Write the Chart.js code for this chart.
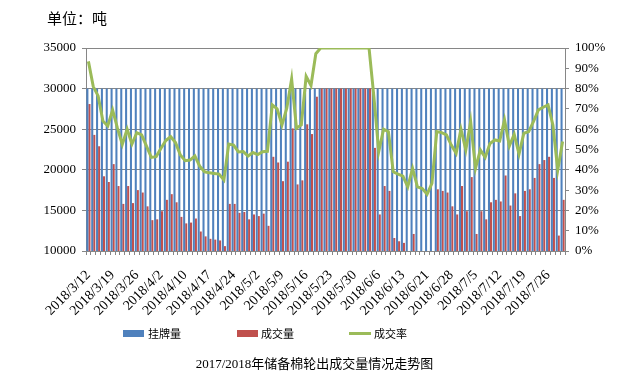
<!DOCTYPE html>
<html><head><meta charset="utf-8">
<script src="https://cdn.jsdelivr.net/npm/chart.js@4.4.1/dist/chart.umd.min.js"></script>
<style>
html,body{margin:0;padding:0;background:#fff;}
#wrap{position:relative;width:629px;height:380px;overflow:hidden;}
canvas{position:absolute;left:0;top:0;}
.t{position:absolute;font-family:"Noto Sans CJK SC","Noto Sans",sans-serif;color:#000;white-space:nowrap;line-height:1;}
.sw{position:absolute;}
</style></head><body>
<div id="wrap">
<canvas id="c" width="629" height="380"></canvas>
<div class="t" style="left:47px;top:10px;font-size:15px;">单位：吨</div>
<div class="sw" style="left:123px;top:330px;width:21px;height:7px;background:#4F81BD;"></div>
<div class="t" style="left:148px;top:328px;font-size:11px;">挂牌量</div>
<div class="sw" style="left:237px;top:330px;width:21px;height:7px;background:#C0504D;"></div>
<div class="t" style="left:261px;top:328px;font-size:11px;">成交量</div>
<div class="sw" style="left:349px;top:332px;width:22px;height:3px;background:#9BBB59;"></div>
<div class="t" style="left:374px;top:328px;font-size:11px;">成交率</div>
<div class="t" style="left:0;width:629px;text-align:center;top:356px;font-size:13px;"><span style="font-family:'Liberation Serif',serif;">2017/2018</span>年储备棉轮出成交量情况走势图</div>
</div>
<script>
const categories = [
 '2018/3/12','2018/3/13','2018/3/14','2018/3/15','2018/3/16',
 '2018/3/19','2018/3/20','2018/3/21','2018/3/22','2018/3/23',
 '2018/3/26','2018/3/27','2018/3/28','2018/3/29','2018/3/30',
 '2018/4/2','2018/4/3','2018/4/4','2018/4/8','2018/4/9',
 '2018/4/10','2018/4/11','2018/4/12','2018/4/13','2018/4/16',
 '2018/4/17','2018/4/18','2018/4/19','2018/4/20','2018/4/23',
 '2018/4/24','2018/4/25','2018/4/26','2018/4/27','2018/4/28',
 '2018/5/2','2018/5/3','2018/5/4','2018/5/7','2018/5/8',
 '2018/5/9','2018/5/10','2018/5/11','2018/5/14','2018/5/15',
 '2018/5/16','2018/5/17','2018/5/18','2018/5/21','2018/5/22',
 '2018/5/23','2018/5/24','2018/5/25','2018/5/28','2018/5/29',
 '2018/5/30','2018/5/31','2018/6/1','2018/6/4','2018/6/5',
 '2018/6/6','2018/6/7','2018/6/8','2018/6/11','2018/6/12',
 '2018/6/13','2018/6/14','2018/6/15','2018/6/19','2018/6/20',
 '2018/6/21','2018/6/22','2018/6/25','2018/6/26','2018/6/27',
 '2018/6/28','2018/6/29','2018/7/2','2018/7/3','2018/7/4',
 '2018/7/5','2018/7/6','2018/7/9','2018/7/10','2018/7/11',
 '2018/7/12','2018/7/13','2018/7/16','2018/7/17','2018/7/18',
 '2018/7/19','2018/7/20','2018/7/23','2018/7/24','2018/7/25',
 '2018/7/26','2018/7/27','2018/7/30','2018/7/31'
];
const tickLabels = ['2018/3/12','2018/3/19','2018/3/26','2018/4/2','2018/4/10','2018/4/17','2018/4/24','2018/5/2','2018/5/9','2018/5/16','2018/5/23','2018/5/30','2018/6/6','2018/6/13','2018/6/21','2018/6/28','2018/7/5','2018/7/12','2018/7/19','2018/7/26'];
const listed = [
 30000,30000,30000,30000,30000,30000,30000,30000,30000,30000,
 30000,30000,30000,30000,30000,30000,30000,30000,30000,30000,
 30000,30000,30000,30000,30000,30000,30000,30000,30000,30000,
 30000,30000,30000,30000,30000,30000,30000,30000,30000,30000,
 30000,30000,30000,30000,30000,30000,30000,30000,30000,30000,
 30000,30000,30000,30000,30000,30000,30000,30000,30000,30000,
 30000,30000,30000,30000,30000,30000,30000,30000,30000,30000,
 30000,30000,30000,30000,30000,30000,30000,30000,30000,30000,
 30000,30000,30000,30000,30000,30000,30000,30000,30000,30000,
 30000,30000,30000,30000,30000,30000,30000,30000,30000
];
const traded = [
 28100,24300,22900,19200,18500,20700,18000,15800,18000,15900,
 17500,17200,15500,13800,13900,14900,16300,17000,16000,14200,
 13400,13500,14000,12400,11800,11500,11400,11300,10600,15800,
 15800,14700,14800,13900,14500,14300,14600,13100,21600,20900,
 18600,21000,25100,18200,18700,25600,24400,29000,30000,30000,
 30000,30000,30000,30000,30000,30000,30000,30000,30000,22700,
 14500,18000,17400,11600,11200,11000,9500,12100,9500,9200,
 8400,9900,17600,17400,17200,15500,14500,18000,14900,19100,
 12100,14900,13900,16000,16300,16100,19300,15600,17100,14300,
 17400,17600,19000,20700,21200,21600,19000,11900,16300
];
const rate = [
 93.4,81.0,76.4,64.0,61.6,69.5,60.5,52.5,60.0,52.7,
 58.3,57.2,51.7,46.1,46.5,50.6,54.4,56.3,53.4,47.3,
 44.5,44.8,46.8,41.8,39.0,38.5,38.2,37.9,35.0,52.7,
 52.2,48.8,49.0,46.8,48.5,47.5,48.9,49.1,72.0,70.0,
 62.1,70.3,84.7,60.5,62.1,86.0,81.5,97.2,100,100,
 100,100,100,100,100,100,100,100,100,76.0,
 48.9,60.0,58.8,39.0,37.9,36.9,31.6,40.7,31.6,30.8,
 28.0,33.3,58.8,58.3,57.2,52.2,48.1,60.0,49.8,63.8,
 40.7,49.8,46.1,53.0,54.7,54.2,64.6,51.7,57.5,47.8,
 58.0,58.8,63.8,69.5,70.8,72.0,62.1,39.9,53.9
];

const GRID = '#868686';
const serif = {family: "'Liberation Serif','Times New Roman',serif", size: 13};
const serifX = {family: "'Liberation Serif','Times New Roman',serif", size: 14};

new Chart(document.getElementById('c'), {
  data: {
    labels: categories,
    datasets: [
      {type:'line', label:'成交率', data: rate, yAxisID:'y1', borderColor:'#9BBB59', backgroundColor:'#9BBB59',
       borderWidth:3, pointRadius:0, tension:0, order:0},
      {type:'bar', label:'挂牌量', data: listed, yAxisID:'y', backgroundColor:'#4F81BD',
       categoryPercentage:0.85, barPercentage:1.0, order:1, clip:0},
      {type:'bar', label:'成交量', data: traded, yAxisID:'y', backgroundColor:'#C0504D',
       categoryPercentage:0.85, barPercentage:1.0, order:1, clip:0}
    ]
  },
  options: {
    responsive:false, animation:false,
    layout:{padding:{top:48,left:0,right:0,bottom:0}},
    plugins:{legend:{display:false}, title:{display:false}, tooltip:{enabled:false}},
    scales:{
      x:{
        offset:true,
        grid:{display:true, drawOnChartArea:false, drawTicks:true, tickLength:4, color:GRID, offset:true},
        border:{display:true, color:GRID},
        ticks:{autoSkip:false, maxRotation:45, minRotation:45, padding:12, color:'#000', font:serifX,
          callback:function(v, i){ const l = categories[i]; return tickLabels.includes(l) ? l : ''; }},
        afterFit:function(s){ s.height = 129; }
      },
      y:{
        position:'left', min:10000, max:35000,
        ticks:{stepSize:5000, color:'#000', font:serif, padding:6, callback:function(v){ return String(v); }},
        grid:{color:GRID, tickLength:4, drawTicks:true},
        border:{display:true, color:GRID},
        afterFit:function(s){ s.width = 86; }
      },
      y1:{
        position:'right', min:0, max:100,
        ticks:{stepSize:10, color:'#000', font:serif, padding:6, callback:function(v){ return v + '%'; }},
        grid:{drawOnChartArea:false, color:GRID, tickLength:4, drawTicks:true},
        border:{display:true, color:GRID},
        afterFit:function(s){ s.width = 64; }
      }
    }
  }
});
</script>
</body></html>
